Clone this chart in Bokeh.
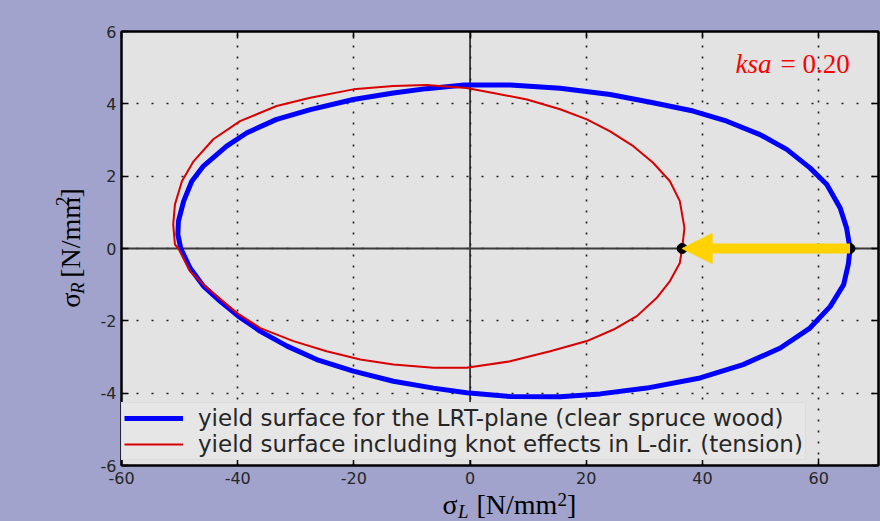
from math import pi
from bokeh.plotting import figure
from bokeh.layouts import row, column
from bokeh.models import (Label, Span, Arrow, NormalHead, FixedTicker, Range1d,
                          LinearAxis, GlobalInlineStyleSheet)
from bokeh.embed import file_html
from bokeh.resources import INLINE

# ---------------- data ----------------
x_ticks = [-60, -40, -20, 0, 20, 40, 60]
y_ticks = [-6, -4, -2, 0, 2, 4, 6]

# yield surface for the LRT-plane (clear spruce wood)
blue_x = [65.4, 64.8, 63.7, 61.4, 58.5, 54.5, 49.9, 44.2, 38.4, 31.5, 24.1, 15.5,
          6.9, -1.0, -7.5, -13.2, -20.1, -27.5, -33.3, -38.4, -41.9, -45.9, -47.9,
          -49.3, -50.2, -50.3, -49.8, -48.2, -45.9, -43.0, -39.9, -36.1, -31.5,
          -26.4, -20.1, -13.2, -6.3, -0.6, 6.9, 15.5, 22.4, 30.4, 39.6, 47.0,
          53.4, 58.5, 62.0, 64.3, 65.1, 65.4]
blue_y = [0.0, 0.57, 1.12, 1.77, 2.23, 2.74, 3.15, 3.52, 3.80, 4.03, 4.26, 4.43,
          4.52, 4.52, 4.42, 4.30, 4.12, 3.84, 3.57, 3.20, 2.83, 2.28, 1.86,
          1.31, 0.76, 0.39, 0.0, -0.54, -1.04, -1.46, -1.87, -2.29, -2.70,
          -3.07, -3.39, -3.67, -3.86, -3.99, -4.09, -4.10, -4.02, -3.86, -3.58, -3.21,
          -2.75, -2.20, -1.60, -1.00, -0.44, 0.0]

# yield surface including knot effects in L-dir. (tension)
red_x = [36.5, 36.9, 36.1, 34.4, 31.5, 28.1, 24.1, 20.1, 15.5, 9.8, 4.0, -0.6,
         -7.5, -13.2, -20.1, -27.5, -33.3, -39.6, -44.2, -47.6, -49.6, -50.8,
         -51.1, -50.8, -50.2, -48.2, -45.9, -40.2, -36.1, -30.4, -24.7, -18.9,
         -13.2, -6.3, -0.6, 6.9, 13.8, 20.1, 24.7, 28.7, 32.1, 34.4, 36.1, 36.5]
red_y = [0.0, 0.57, 1.31, 1.86, 2.37, 2.83, 3.24, 3.57, 3.85, 4.12, 4.30, 4.44,
         4.52, 4.49, 4.40, 4.17, 3.94, 3.52, 3.02, 2.41, 1.86, 1.22,
         0.66, 0.11, 0.0, -0.63, -1.00, -1.78, -2.20, -2.56, -2.84, -3.07,
         -3.21, -3.30, -3.30, -3.12, -2.84, -2.56, -2.24, -1.87, -1.37, -0.90, -0.40, 0.0]

# marked points on the sigma_L axis (knot-reduced strength, clear-wood strength)
dot_x = [36.5, 65.4]
dot_y = [0.0, 0.0]

legend_labels = ["yield surface for the LRT-plane (clear spruce wood)",
                 "yield surface including knot effects in L-dir. (tension)"]
ksa_name = "ksa"
ksa_value = "= 0.20"

# ---------------- layout ----------------
PAGE_BG = "#a2a3cc"
PLOT_BG = "#e3e3e3"
GOLD = "#ffd200"
TOTAL_W, TOTAL_H = 880, 521
YLAB_W = 90          # strip left of the main figure holding the y label
XLAB_H = 31          # strip below the main figure holding the x label
MAIN_W, MAIN_H = TOTAL_W - YLAB_W, TOTAL_H - XLAB_H
BL, BR, BT, BB = 31, 2, 31, 25
XR = (-60, 70.3)
YR = (-6, 6)
FL, FR = YLAB_W + BL, TOTAL_W - BR
FT, FB = BT, MAIN_H - BB
MID = 0.34           # distance baseline -> text middle, in em


def dx(px):
    return XR[0] + (px - FL) * (XR[1] - XR[0]) / (FR - FL)


def dy(py):
    return YR[1] - (py - FT) * (YR[1] - YR[0]) / (FB - FT)


p = figure(width=MAIN_W, height=MAIN_H, x_range=XR, y_range=YR,
           output_backend="svg", toolbar_location=None,
           min_border_left=BL, min_border_right=BR,
           min_border_top=BT, min_border_bottom=BB,
           background_fill_color=PLOT_BG, border_fill_color=PAGE_BG,
           outline_line_color="black", outline_line_width=2)

p.add_layout(LinearAxis(), "above")
p.add_layout(LinearAxis(), "right")

for ax in p.xaxis + p.yaxis:
    ax.axis_line_color = "black"
    ax.axis_line_width = 2
    ax.major_tick_in = 7
    ax.major_tick_out = 0
    ax.major_tick_line_color = "black"
    ax.major_tick_line_width = 1.5
    ax.minor_tick_line_color = None
    ax.major_label_text_font = "DejaVu Sans"
    ax.major_label_text_font_size = "16px"
    ax.major_label_text_color = "#262626"
for ax in p.xaxis:
    ax.ticker = FixedTicker(ticks=x_ticks)
    ax.major_label_overrides = {t: str(t) for t in x_ticks}
for ax in p.yaxis:
    ax.ticker = FixedTicker(ticks=y_ticks)
    ax.major_label_overrides = {t: str(t) for t in y_ticks}
for ax in (p.above[0], p.right[0]):
    ax.major_label_text_font_size = "0px"
    ax.major_label_text_color = None
    ax.major_label_standoff = 0
p.left[0].major_label_standoff = 5
p.below[0].major_label_standoff = 6

p.xgrid.grid_line_color = "#1e1e1e"
p.xgrid.grid_line_width = 1.6
p.xgrid.grid_line_dash = "2 9"
p.ygrid.grid_line_color = "#1e1e1e"
p.ygrid.grid_line_width = 1.6
p.ygrid.grid_line_dash = "2 13"

p.add_layout(Span(location=0, dimension="height", line_color="#202020",
                  line_width=1.6, level="underlay"))
p.add_layout(Span(location=0, dimension="width", line_color="#3a3a3a",
                  line_width=2, level="underlay"))

arrow = Arrow(end=NormalHead(size=30, fill_color=GOLD, line_color=GOLD, line_width=1),
              x_start=dot_x[1], y_start=dot_y[1], x_end=dot_x[0], y_end=dot_y[0],
              line_color=GOLD, line_width=10, level="glyph")
p.add_layout(arrow)

p.line(blue_x, blue_y, line_color="#0000ff", line_width=5, line_join="round",
       legend_label=legend_labels[0])
p.line(red_x, red_y, line_color="#d80000", line_width=2, line_join="round",
       legend_label=legend_labels[1])
p.scatter(dot_x, dot_y, size=10, color="black")

lg = p.legend[0]
lg.location = (0, 5)
lg.margin = 0
lg.padding = 2
lg.spacing = 0
lg.glyph_width = 59
lg.glyph_height = 20
lg.label_height = 20
lg.label_standoff = 15
lg.label_text_font = "DejaVu Sans"
lg.label_text_font_size = "23px"
lg.label_text_color = "#262626"
lg.background_fill_color = "#e6e6e6"
lg.background_fill_alpha = 1
lg.border_line_color = "#d2d2d2"
lg.border_line_width = 1

KS = 27
p.add_layout(Label(x=dx(735), y=dy(73 - MID * KS), text=ksa_name, text_font="Liberation Serif",
                   text_font_size="%dpx" % KS, text_font_style="italic", text_color="#ff0000",
                   text_align="left", text_baseline="middle"))
p.add_layout(Label(x=dx(780), y=dy(73 - MID * KS), text=ksa_value, text_font="Liberation Serif",
                   text_font_size="%dpx" % KS, text_color="#ff0000",
                   text_align="left", text_baseline="middle"))


def strip(w, h, x0, y0):
    f = figure(width=w, height=h, x_range=Range1d(x0, x0 + w), y_range=Range1d(y0 + h, y0),
               x_axis_type=None, y_axis_type=None, min_border=0,
               min_border_left=0, min_border_right=0, min_border_top=0, min_border_bottom=0,
               outline_line_color=None, background_fill_color=PAGE_BG,
               border_fill_color=PAGE_BG, toolbar_location=None, output_backend="svg")
    return f


ylab = strip(YLAB_W, MAIN_H, 0, 0)
xlab = strip(TOTAL_W, XLAB_H, 0, MAIN_H)

S, s = 28, 19
SP = 0.25 * S


# (text, size, italic, baseline shift down, advance)
def pieces(sub, sup_raise):
    return [("σ", S, False, 0, 0.55 * S), (sub, s, True, 3, 0.6 * s + SP),
            ("[N/mm", S, False, 0, 2.9 * S), ("2", s, False, -sup_raise, 0.5 * s),
            ("]", S, False, 0, 0.333 * S)]


def put(fig, text, x, y, size, italic, angle=0.0):
    fig.add_layout(Label(x=x, y=y, text=text, text_font="Liberation Serif",
                         text_font_size="%gpx" % size,
                         text_font_style="italic" if italic else "normal",
                         text_color="black", angle=angle,
                         text_align="left", text_baseline="middle"))


X_BASE = 514
xp = pieces("L", 9)
pos = 509 - sum(pc[4] for pc in xp) / 2
for t, sz, it, sh, adv in xp:
    put(xlab, t, pos, X_BASE + sh - MID * sz, sz, it)
    pos += adv

Y_BASE = 80
yp = pieces("R", 12)
pos = 245 + sum(pc[4] for pc in yp) / 2
for t, sz, it, sh, adv in yp:
    put(ylab, t, Y_BASE + sh - MID * sz, pos, sz, it, angle=pi / 2)
    pos -= adv

layout = column(row(ylab, p, spacing=0), xlab, spacing=0)
layout.stylesheets = [GlobalInlineStyleSheet(css="body { background-color: %s; }" % PAGE_BG)]

open("out.html", "w").write(file_html(layout, INLINE))
